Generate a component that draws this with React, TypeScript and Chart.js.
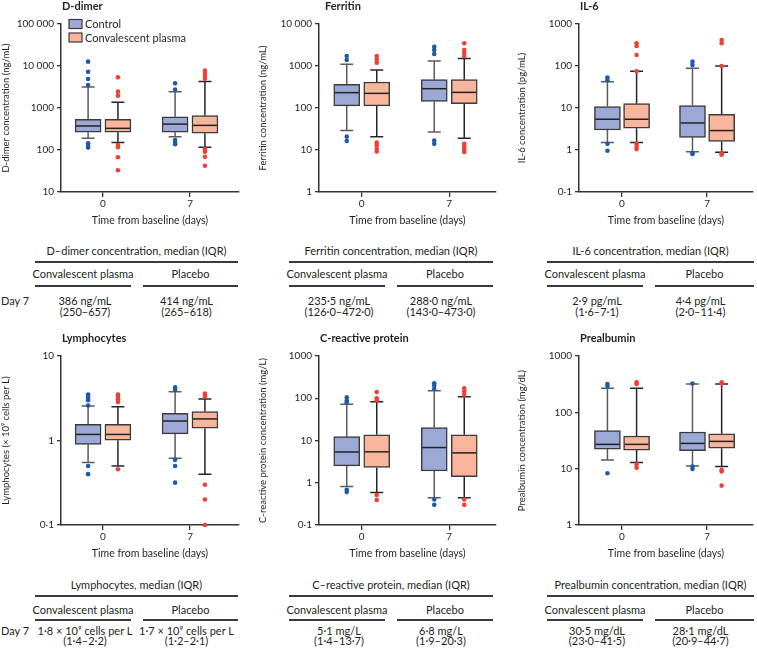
import React, { useEffect, useRef } from 'react';
import { Chart, registerables } from 'chart.js';
Chart.register(...registerables);

// ---------- DATA ----------
// box stats per day (day 0, day 7): [lower whisker, Q1, median, Q3, upper whisker]
const DAYS = [0, 7];
const GROUP_LABELS = ['Control', 'Convalescent plasma'];

const dDimerControl = [[190, 264, 373, 537, 3160], [208, 265, 414, 618, 2450]];
const dDimerControlOut = [[12700, 7300, 4900, 3530, 145, 127, 114], [3860, 2750, 173, 150, 137]];
const dDimerPlasma = [[150, 264, 328, 537, 1365], [116, 250, 386, 657, 4300]];
const dDimerPlasmaOut = [[5370, 2450, 1970, 131, 116, 67, 33], [7740, 6800, 5800, 5000, 106, 91, 69, 42]];
const dDimerTicks = [10, 100, 1000, 10000, 100000];
const dDimerTickLabels = ['10', '100', '1000', '10 000', '100 000'];

const ferritinControl = [[29, 112, 232, 366, 1096], [27, 143, 288, 473, 1315]];
const ferritinControlOut = [[1730, 1390, 20.8, 16.4], [2880, 2400, 1930, 16.9, 14]];
const ferritinPlasma = [[20.8, 112, 223, 416, 803], [19, 126, 235.5, 472, 1500]];
const ferritinPlasmaOut = [[1730, 1450, 1200, 15, 13, 10.6, 9.2], [3470, 2400, 2080, 1730, 14, 12, 10.3, 9]];
const ferritinTicks = [1, 10, 100, 1000, 10000];
const ferritinTickLabels = ['1', '10', '100', '1000', '10 000'];

const il6Control = [[1.5, 3.0, 5.4, 10.8, 42], [0.91, 2.0, 4.4, 11.4, 88]];
const il6ControlOut = [[53, 46, 1.4, 0.96], [127, 105, 0.85, 0.8]];
const il6Plasma = [[1.5, 3.3, 5.4, 12.7, 75], [0.88, 1.6, 2.9, 7.1, 100]];
const il6PlasmaOut = [[347, 299, 183, 75, 1.4, 1.2, 1.05], [416, 347, 100, 0.83, 0.77]];
const il6Ticks = [0.1, 1, 10, 100, 1000];
const il6TickLabels = ['0·1', '1', '10', '100', '1000'];

const lymphControl = [[0.55, 0.9, 1.18, 1.55, 2.56], [0.615, 1.2, 1.7, 2.1, 3.78]];
const lymphControlOut = [[3.5, 3.36, 3.15, 3.0, 2.6, 0.5, 0.4], [4.25, 4.0, 0.59, 0.5, 0.317]];
const lymphPlasma = [[0.5, 1.01, 1.18, 1.55, 2.5], [0.4, 1.4, 1.8, 2.2, 3.1]];
const lymphPlasmaOut = [[3.5, 3.36, 3.2, 3.05, 2.85, 0.456], [3.6, 3.45, 3.3, 0.3, 0.2, 0.1]];
const lymphTicks = [0.1, 1, 10];
const lymphTickLabels = ['0·1', '1', '10'];

const crpControl = [[0.81, 2.5, 5.35, 12.3, 72], [0.44, 1.9, 6.8, 20.3, 151]];
const crpControlOut = [[105, 88, 80, 0.68, 0.6], [225, 200, 165, 0.4, 0.3]];
const crpPlasma = [[0.59, 2.3, 5.4, 13.7, 83], [0.44, 1.4, 5.1, 13.7, 109]];
const crpPlasmaOut = [[140, 100, 90, 0.51, 0.39], [172, 145, 120, 0.4, 0.3]];
const crpTicks = [0.1, 1, 10, 100, 1000];
const crpTickLabels = ['0·1', '1', '10', '100', '1000'];

const preControl = [[14.3, 22.3, 27, 47.3, 267], [11.1, 20.9, 28.1, 44.7, 318]];
const preControlOut = [[318, 293, 8.3], [325, 10.9, 9.9]];
const prePlasma = [[12.9, 21.4, 27, 38, 267], [10.9, 23.0, 30.5, 41.5, 318]];
const prePlasmaOut = [[340, 318, 11.9, 10.4], [340, 325, 9.5, 8.9, 5.0]];
const preTicks = [1, 10, 100, 1000];
const preTickLabels = ['1', '10', '100', '1000'];

const panelTitles = ['D-dimer', 'Ferritin', 'IL-6', 'Lymphocytes', 'C-reactive protein', 'Prealbumin'];
const yAxisTitles = [
  'D-dimer concentration (ng/mL)',
  'Ferritin concentration (ng/mL)',
  'IL-6 concentration (pg/mL)',
  'Lymphocytes (× 10⁹ cells per L)',
  'C-reactive protein concentration (mg/L)',
  'Prealbumin concentration (mg/dL)',
];
const xAxisTitle = 'Time from baseline (days)';

// tables
const tableTitles = [
  'D–dimer concentration, median (IQR)',
  'Ferritin concentration, median (IQR)',
  'IL-6 concentration, median (IQR)',
  'Lymphocytes, median (IQR)',
  'C–reactive protein, median (IQR)',
  'Prealbumin concentration, median (IQR)',
];
const tableHeaders = ['Convalescent plasma', 'Placebo'];
const rowLabel = 'Day 7';
const plasmaValues = ['386 ng/mL', '235·5 ng/mL', '2·9 pg/mL', '1·8 × 10⁹ cells per L', '5·1 mg/L', '30·5 mg/dL'];
const plasmaRanges = ['(250–657)', '(126·0–472·0)', '(1·6–7·1)', '(1·4–2·2)', '(1·4–13·7)', '(23·0–41·5)'];
const placeboValues = ['414 ng/mL', '288·0 ng/mL', '4·4 pg/mL', '1·7 × 10⁹ cells per L', '6·8 mg/L', '28·1 mg/dL'];
const placeboRanges = ['(265–618)', '(143·0–473·0)', '(2·0–11·4)', '(1·2–2·1)', '(1·9–20·3)', '(20·9–44·7)'];

// ---------- STYLE / LAYOUT ----------
const FONT = "Lato, 'Liberation Sans', sans-serif";
const TEXT = '#231f20';
const AXIS = '#333333';
const CONTROL_FILL = '#9ca9d6';
const PLASMA_FILL = '#f9b69c';
const CONTROL_DOT = '#1e5aa8';
const PLASMA_DOT = '#ef3f37';
const CONTROL_LINE = '#5c5c5c';
const PLASMA_LINE = '#262626';
const BOX_EDGE = '#3a3a3a';
const OFF = 1.2;

const COL_LEFT = [0, 250, 500];
const COL_WIDTH = [250, 250, 257];
const PAD_LEFT = [0, 7, 16];
const Y_WIDTH = [61, 62, 63];
const PAD_RIGHT = [11, 3, 0];
const X_MIN = [-3.38, -3.42, -3.54];
const X_MAX = [10.94, 10.74, 10.78];
const ROW_TOP = [0, 332];
const AREA_H = [168, 169];
const TITLE_DX = [1, 6, 1, 1, 1, 1];

const panels = [
  { c: dDimerControl, co: dDimerControlOut, p: dDimerPlasma, po: dDimerPlasmaOut, t: dDimerTicks, tl: dDimerTickLabels },
  { c: ferritinControl, co: ferritinControlOut, p: ferritinPlasma, po: ferritinPlasmaOut, t: ferritinTicks, tl: ferritinTickLabels },
  { c: il6Control, co: il6ControlOut, p: il6Plasma, po: il6PlasmaOut, t: il6Ticks, tl: il6TickLabels },
  { c: lymphControl, co: lymphControlOut, p: lymphPlasma, po: lymphPlasmaOut, t: lymphTicks, tl: lymphTickLabels },
  { c: crpControl, co: crpControlOut, p: crpPlasma, po: crpPlasmaOut, t: crpTicks, tl: crpTickLabels },
  { c: preControl, co: preControlOut, p: prePlasma, po: prePlasmaOut, t: preTicks, tl: preTickLabels },
];

const deco = {
  id: 'deco',
  beforeDatasetsDraw(chart: any) {
    const { ctx } = chart;
    const y = chart.scales.y;
    chart.data.datasets.forEach((ds: any, di: number) => {
      if (!ds.stats) return;
      const meta = chart.getDatasetMeta(di);
      meta.data.forEach((el: any, j: number) => {
        const s = ds.stats[j];
        const x = el.x;
        const hi = y.getPixelForValue(s[4]);
        const lo = y.getPixelForValue(s[0]);
        ctx.save();
        ctx.strokeStyle = ds.whisker;
        ctx.lineWidth = 1.5;
        ctx.beginPath();
        ctx.moveTo(x, y.getPixelForValue(s[3]));
        ctx.lineTo(x, hi);
        ctx.moveTo(x, y.getPixelForValue(s[1]));
        ctx.lineTo(x, lo);
        ctx.moveTo(x - 6.5, hi);
        ctx.lineTo(x + 6.5, hi);
        ctx.moveTo(x - 6.5, lo);
        ctx.lineTo(x + 6.5, lo);
        ctx.stroke();
        ctx.restore();
      });
    });
  },
  afterDatasetsDraw(chart: any) {
    const { ctx } = chart;
    const y = chart.scales.y;
    chart.data.datasets.forEach((ds: any, di: number) => {
      if (!ds.stats) return;
      const meta = chart.getDatasetMeta(di);
      meta.data.forEach((el: any, j: number) => {
        const m = y.getPixelForValue(ds.stats[j][2]);
        ctx.save();
        ctx.strokeStyle = '#222';
        ctx.lineWidth = 1.5;
        ctx.beginPath();
        ctx.moveTo(el.x - el.width / 2 + 1, m);
        ctx.lineTo(el.x + el.width / 2 - 1, m);
        ctx.stroke();
        ctx.restore();
      });
    });
  },
  afterDraw(chart: any, _a: any, opts: any) {
    const { ctx, chartArea } = chart;
    ctx.save();
    ctx.fillStyle = TEXT;
    ctx.font = `bold 11px ${FONT}`;
    ctx.textBaseline = 'middle';
    ctx.textAlign = 'left';
    ctx.fillText(opts.title, chartArea.left + opts.dx, 6);
    if (opts.legend) {
      const fills = [CONTROL_FILL, PLASMA_FILL];
      ctx.font = `11px ${FONT}`;
      GROUP_LABELS.forEach((lab, i) => {
        const yy = 24 + i * 13.5;
        const x0 = chartArea.left + 8;
        ctx.fillStyle = fills[i];
        ctx.fillRect(x0, yy - 4.5, 13, 9);
        ctx.strokeStyle = BOX_EDGE;
        ctx.lineWidth = 1.2;
        ctx.strokeRect(x0, yy - 4.5, 13, 9);
        ctx.fillStyle = TEXT;
        ctx.fillText(lab, x0 + 16, yy + 0.5);
      });
    }
    ctx.restore();
  },
};

function buildConfig(idx: number): any {
  const pd = panels[idx];
  const col = idx % 3;
  const boxDs = (stats: number[][], sign: number, fill: string, line: string, label: string) => ({
    type: 'bar',
    label,
    data: DAYS.map((d, i) => ({ x: d + sign * OFF, y: [stats[i][1], stats[i][3]] })),
    backgroundColor: fill,
    borderColor: BOX_EDGE,
    borderWidth: 1.5,
    borderSkipped: false,
    grouped: false,
    barThickness: 26,
    maxBarThickness: 26,
    stats,
    whisker: line,
  });
  const outDs = (out: number[][], sign: number, color: string) => ({
    type: 'scatter',
    data: DAYS.flatMap((d, i) => out[i].map((v) => ({ x: d + sign * OFF, y: v }))),
    backgroundColor: color,
    borderWidth: 0,
    pointRadius: 2.3,
    clip: false,
  });
  const tickFont = { family: FONT, size: 10 };
  return {
    type: 'bar',
    data: {
      datasets: [
        boxDs(pd.c, -1, CONTROL_FILL, CONTROL_LINE, GROUP_LABELS[0]),
        boxDs(pd.p, 1, PLASMA_FILL, PLASMA_LINE, GROUP_LABELS[1]),
        outDs(pd.co, -1, CONTROL_DOT),
        outDs(pd.po, 1, PLASMA_DOT),
      ],
    },
    options: {
      animation: false,
      responsive: false,
      events: [],
      layout: { padding: { left: PAD_LEFT[col], right: PAD_RIGHT[col], top: 24, bottom: 0 } },
      plugins: {
        legend: { display: false },
        tooltip: { enabled: false },
        deco: { title: panelTitles[idx], dx: TITLE_DX[idx], legend: idx === 0 },
      },
      scales: {
        x: {
          type: 'linear',
          min: X_MIN[col],
          max: X_MAX[col],
          offset: false,
          afterBuildTicks: (s: any) => {
            s.ticks = DAYS.map((v) => ({ value: v }));
          },
          afterFit: (s: any) => {
            s.height = 35;
          },
          ticks: { callback: (v: any) => String(v), font: tickFont, color: TEXT, padding: 1, autoSkip: false, maxRotation: 0 },
          grid: { drawOnChartArea: false, drawTicks: true, tickLength: 5, color: AXIS, lineWidth: 1.3, offset: false },
          border: { display: true, color: AXIS, width: 1.5 },
          title: { display: true, text: xAxisTitle, font: { family: FONT, size: 10.5 }, color: TEXT, padding: 0 },
        },
        y: {
          type: 'logarithmic',
          min: pd.t[0],
          max: pd.t[pd.t.length - 1],
          afterBuildTicks: (s: any) => {
            s.ticks = pd.t.map((v) => ({ value: v }));
          },
          afterFit: (s: any) => {
            s.width = Y_WIDTH[col];
          },
          ticks: { callback: (_v: any, i: number) => pd.tl[i], font: tickFont, color: TEXT, padding: 3, autoSkip: false },
          grid: { drawOnChartArea: false, drawTicks: true, tickLength: 4, color: AXIS, lineWidth: 1.3 },
          border: { display: true, color: AXIS, width: 1.5 },
          title: { display: true, text: yAxisTitles[idx], font: { family: FONT, size: 9.5 }, color: TEXT, padding: 0 },
        },
      },
    },
    plugins: [deco],
  };
}

function Panel({ idx }: { idx: number }) {
  const ref = useRef<HTMLCanvasElement | null>(null);
  const col = idx % 3;
  const row = Math.floor(idx / 3);
  const w = COL_WIDTH[col];
  const h = 24 + AREA_H[row] + 35;
  useEffect(() => {
    const chart = new Chart(ref.current as HTMLCanvasElement, buildConfig(idx));
    return () => chart.destroy();
  }, [idx]);
  return (
    <canvas
      ref={ref}
      width={w}
      height={h}
      style={{ position: 'absolute', left: COL_LEFT[col], top: ROW_TOP[row], width: w, height: h }}
    />
  );
}

// table layout
const T_LEFT = [35, 289, 547];
const T_RIGHT = [238, 493, 754];
const T_SPLIT = 96;
const T_GAP = 12;
const T_ROWS = [
  [251, 262, 274, 286, 301, 312],
  [585, 596, 610, 620, 631, 641],
];

function Txt({ x, y, text, align = 'center', size = 11 }: any) {
  const style: any = {
    position: 'absolute',
    top: y - 8,
    height: 16,
    lineHeight: '16px',
    fontFamily: FONT,
    fontSize: size,
    color: TEXT,
    whiteSpace: 'nowrap',
  };
  if (align === 'center') {
    style.left = x - 120;
    style.width = 240;
    style.textAlign = 'center';
  } else {
    style.left = x;
  }
  return <div style={style}>{text}</div>;
}

function Line({ x1, x2, y }: any) {
  return <div style={{ position: 'absolute', left: x1, width: x2 - x1, top: y - 0.75, height: 1.5, background: '#3a3a3a' }} />;
}

function Table({ idx }: { idx: number }) {
  const col = idx % 3;
  const r = T_ROWS[Math.floor(idx / 3)];
  const L = T_LEFT[col];
  const R = T_RIGHT[col];
  const cpEnd = L + T_SPLIT;
  const plStart = cpEnd + T_GAP;
  const cpC = (L + cpEnd) / 2;
  const plC = (plStart + R) / 2;
  return (
    <>
      <Txt x={(L + R) / 2} y={r[0]} text={tableTitles[idx]} />
      <Line x1={L} x2={R} y={r[1]} />
      <Txt x={cpC} y={r[2]} text={tableHeaders[0]} />
      <Txt x={plC} y={r[2]} text={tableHeaders[1]} />
      <Line x1={L} x2={cpEnd} y={r[3]} />
      <Line x1={plStart} x2={R} y={r[3]} />
      <Txt x={cpC + 2} y={r[4]} text={plasmaValues[idx]} />
      <Txt x={cpC + 2} y={r[5]} text={plasmaRanges[idx]} />
      <Txt x={plC - 4} y={r[4]} text={placeboValues[idx]} />
      <Txt x={plC - 4} y={r[5]} text={placeboRanges[idx]} />
      {col === 0 && <Txt x={1} y={r[4]} text={rowLabel} align="left" />}
    </>
  );
}

export default function App() {
  return (
    <div style={{ position: 'absolute', left: 0, top: 0, width: 757, height: 649, overflow: 'hidden', background: '#fff' }}>
      {[0, 1, 2, 3, 4, 5].map((i) => (
        <Panel key={'p' + i} idx={i} />
      ))}
      {[0, 1, 2, 3, 4, 5].map((i) => (
        <Table key={'t' + i} idx={i} />
      ))}
    </div>
  );
}
